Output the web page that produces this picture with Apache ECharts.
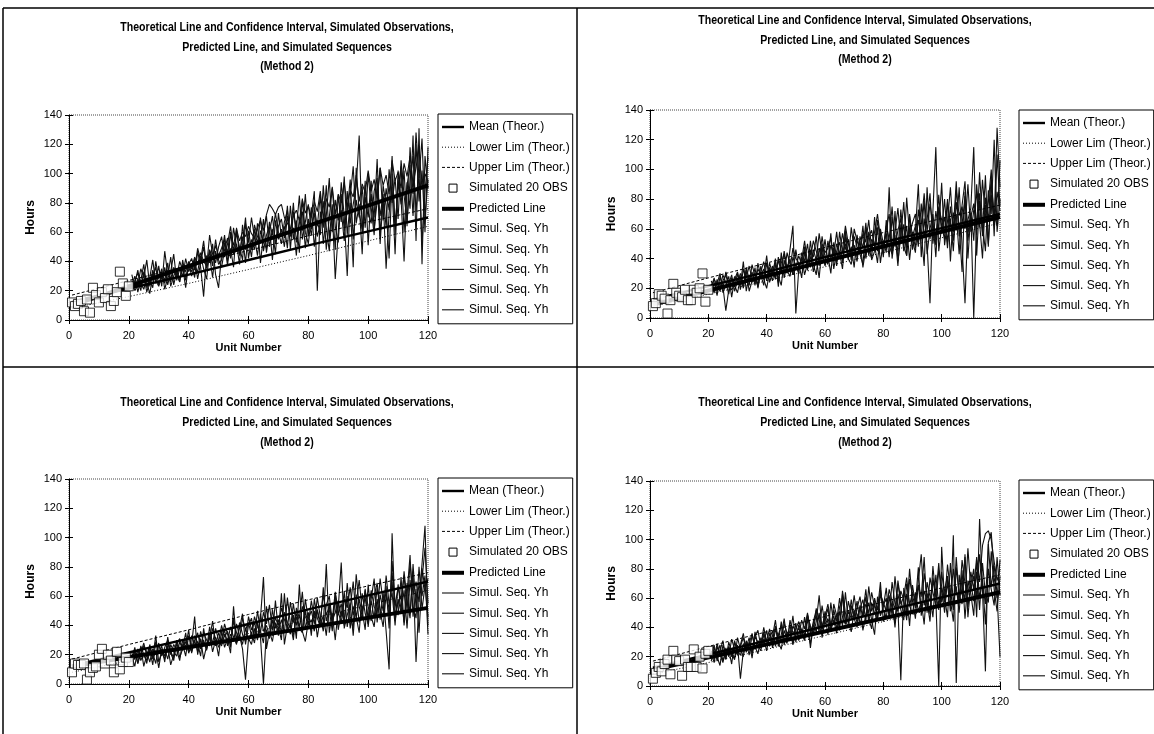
<!DOCTYPE html>
<html>
<head>
<meta charset="utf-8">
<style>
  html, body { margin: 0; padding: 0; background: #fff; }
  #chart { width: 1154px; height: 734px; }
</style>
<script src="https://cdn.jsdelivr.net/npm/echarts@6.0.0/dist/echarts.min.js"></script>
</head>
<body>
<div id="chart"></div>
<script>
// ---- text ----
const titleLines = [
  'Theoretical Line and Confidence Interval, Simulated Observations,',
  'Predicted Line, and Simulated Sequences',
  '(Method 2)'
];
const xAxisName = 'Unit Number';
const yAxisName = 'Hours';
const seriesNames = ['Mean (Theor.)', 'Lower Lim (Theor.)', 'Upper Lim (Theor.)', 'Simulated 20 OBS', 'Predicted Line'];
const seqName = 'Simul. Seq. Yh';

// ---- axis ticks ----
const xTicks = [0, 20, 40, 60, 80, 100, 120];
const yTicks = [0, 20, 40, 60, 80, 100, 120, 140];

// ---- theoretical lines (same in every panel) ----
const theorUnits = [1, 20, 40, 60, 80, 100, 120];
const meanTheor  = [12.5, 21.5, 31, 41, 51, 60.5, 70];
const lowerTheor = [8, 16, 25, 34.5, 44, 54, 64];
const upperTheor = [17, 27, 37, 47.5, 57.5, 67, 76];

// ---- predicted lines ----
const predUnits = [1, 120];
const pred1 = [10, 92];
const pred2 = [9, 68];
const pred3 = [12, 52];
const pred4 = [11, 64];

// ---- simulated observations, units 1..20 ----
const obsUnits = [1, 2, 3, 4, 5, 6, 7, 8, 9, 10, 11, 12, 13, 14, 15, 16, 17, 18, 19, 20];
const obs1 = [12, 9.5, 11, 13, 6, 14, 5, 22, 17, 12, 19, 15, 21, 9.5, 13, 19, 33, 25, 16.5, 23];
const obs2 = [8, 10, 16, 15, 13, 3, 12, 23, 17, 15, 14, 19, 12, 12, 19, 17, 20, 30, 11, 19];
const obs3 = [8, 14, 13, 13, 14, 3, 8, 11, 12, 20, 24, 14, 20, 16, 8, 22, 10, 15, 18, 15];
const obs4 = [5, 9, 13, 10, 15, 18, 8, 24, 18, 17, 7, 18, 13, 13, 25, 13, 20, 12, 22, 24];

// ---- simulated sequences, units 21..120 ----
const seqFirstUnit = 21;

const p1s1 = [24,30,19,27,38,22,29,41,25,31, 28,36,24,33,45,27,35,30,42,33, 38,29,47,36,16,44,39,52,31,22,
  45,58,40,49,36,63,44,51,70,42, 55,48,66,39,58,71,50,62,45,73, 57,64,49,78,55,68,46,83,60,52,
  71,88,20,74,63,92,55,79,48,85, 67,98,58,80,36,104,73,62,95,51, 86,70,110,57,92,78,42,100,66,88,
  105,60,94,76,126,54,131,38,112,90];
const p1s2 = [31,22,28,20,33,26,18,30,36,24, 32,27,39,23,30,35,26,41,29,37, 33,42,28,39,50,35,44,29,47,38,
  41,53,37,60,45,52,38,65,48,55, 43,62,52,70,47,58,64,41,68,55, 62,50,71,58,80,53,66,74,49,69,
  58,77,64,85,52,71,97,60,82,68, 75,54,88,66,79,91,126,59,84,70, 95,62,81,104,68,90,75,112,58,96,
  79,102,64,118,86,128,97,124,70,96];
const p1s3 = [22,27,32,25,21,29,24,34,27,23, 30,25,34,28,36,31,26,38,33,40, 35,43,38,46,40,37,48,42,51,44,
  49,55,46,58,51,62,54,60,57,64, 59,56,63,68,61,72,79,76,72,77, 79,70,66,62,71,75,68,82,73,78,
  70,81,74,88,69,83,77,91,72,86, 80,94,77,89,84,99,81,93,87,102, 88,96,83,104,92,99,86,109,95,101,
  90,107,98,112,93,104,118,89,100,94];
const p1s4 = [27,20,24,35,29,41,23,32,26,37, 23,47,31,26,35,29,40,34,27,38, 42,34,49,41,54,36,58,45,39,50,
  57,43,52,64,47,59,50,41,66,53, 70,56,44,61,53,49,67,58,73,60, 52,67,75,57,63,44,70,61,86,57,
  77,50,68,58,92,63,47,75,28,60, 94,71,30,84,105,66,79,45,92,74, 66,88,97,52,84,35,73,91,45,102,
  83,40,92,106,71,120,81,102,60,118];
const p1s5 = [20,25,34,23,31,19,27,22,40,28, 35,21,29,43,24,33,28,36,22,39, 30,37,33,44,35,28,47,37,55,41,
  36,48,56,42,63,50,46,57,39,61, 48,65,57,53,69,46,60,71,52,64, 69,56,78,48,74,62,85,55,67,79,
  62,73,57,66,81,48,70,90,64,53, 86,61,74,96,55,82,70,91,63,100, 77,58,94,71,86,63,103,80,97,69,
  109,85,67,95,112,74,100,52,88,111];

const p2s1 = [18,24,15,28,21,5,19,26,22,17, 27,21,32,18,25,30,22,35,26,20, 31,25,36,28,22,39,30,46,62,3,
  33,41,29,37,45,31,40,27,48,35, 42,30,51,38,44,33,55,40,36,49, 41,52,34,47,58,39,45,61,37,52,
  44,88,40,56,35,63,48,42,70,46, 59,90,41,67,50,10,72,115,45,62, 53,80,38,71,59,88,48,10,66,74,
  115,42,79,58,96,50,83,64,128,88];
const p2s2 = [23,17,26,20,29,24,16,27,21,30, 19,33,25,22,36,28,21,31,38,25, 34,29,40,24,37,43,32,28,41,35,
  30,44,38,50,34,46,39,57,43,36, 52,40,47,35,58,44,50,39,61,46, 38,55,47,64,42,53,49,37,60,50,
  57,41,68,52,45,73,50,62,39,58, 47,66,55,79,43,60,70,52,83,58, 68,47,75,60,92,55,63,82,40,71,
  0,67,84,55,76,48,90,70,62,106];
const p2s3 = [20,26,22,18,25,29,21,19,28,24, 30,23,27,35,26,24,33,29,22,37, 28,35,26,41,33,30,44,36,29,34,
  42,36,48,33,40,52,45,38,55,41, 36,49,43,58,40,46,62,50,42,55, 48,44,57,51,66,46,58,70,54,47,
  62,53,75,48,59,67,45,81,56,64, 70,51,63,84,58,77,62,49,74,66, 57,78,64,52,86,69,75,60,90,58,
  72,84,61,93,67,78,100,62,85,72];
const p2s4 = [25,19,23,30,17,22,28,14,26,31, 22,38,18,29,24,34,20,31,27,42, 24,31,38,21,44,27,36,33,47,40,
  37,27,45,32,52,36,29,47,39,53, 38,57,33,45,51,37,59,42,48,34, 56,43,36,61,47,40,68,45,57,41,
  66,49,43,72,38,55,78,47,61,52, 44,73,57,35,88,53,66,41,75,60, 80,51,67,45,78,62,31,85,57,71,
  52,90,64,40,81,66,95,55,110,75];
const p2s5 = [21,27,18,24,20,31,23,29,18,25, 28,20,34,26,31,22,37,28,33,26, 37,30,27,39,31,45,33,40,29,46,
  34,39,52,37,46,41,55,35,50,44, 47,54,38,50,43,57,46,53,39,60, 52,45,62,40,55,59,48,66,51,43,
  60,70,45,58,74,51,63,42,69,55, 62,48,77,55,66,84,50,72,59,91, 49,65,88,58,70,43,76,92,52,68,
  77,56,98,63,45,86,70,120,58,80];

const p3s1 = [19,12,24,16,21,14,27,18,33,15, 22,17,26,13,20,29,18,24,35,21, 27,46,20,31,17,26,34,22,30,19,
  36,25,31,21,53,28,33,24,3,31, 27,38,30,45,73,24,36,29,42,33, 62,27,40,34,47,31,68,36,29,43,
  37,50,32,45,40,82,35,48,30,52, 83,38,47,55,33,61,42,50,37,68, 46,39,58,44,63,36,10,103,47,55,
  60,42,69,48,77,15,58,82,108,40];
const p3s2 = [15,22,18,25,12,20,26,17,23,11, 24,19,28,21,16,30,23,27,19,33, 25,30,22,36,28,24,39,27,32,25,
  30,37,26,34,29,41,33,27,38,30, 35,28,42,32,0,37,31,44,34,39, 30,62,36,41,33,46,38,35,50,40,
  44,36,51,39,47,33,55,42,58,37, 49,44,60,38,53,46,35,62,48,41, 57,45,66,50,39,61,47,70,43,58,
  49,64,38,71,53,45,80,51,67,46];
const p3s3 = [21,17,23,19,26,22,15,24,20,28, 19,25,30,22,18,27,31,24,29,22, 33,26,29,24,35,30,26,38,31,28,
  40,32,36,28,43,35,31,45,37,42, 33,46,39,35,49,41,54,37,45,40, 52,44,38,56,42,48,39,53,46,41,
  57,45,50,43,61,47,53,44,63,49, 42,58,52,66,47,55,71,50,59,45, 64,53,48,72,56,62,51,76,54,66,
  58,74,50,83,61,70,56,79,65,72];
const p3s4 = [17,25,14,21,28,19,23,13,29,21, 26,15,32,20,27,23,16,30,25,37, 21,33,28,19,38,25,31,43,26,35,
  29,41,34,25,45,30,38,48,27,40, 45,31,50,36,28,53,39,33,57,36, 44,35,59,41,30,52,45,63,37,49,
  33,58,45,39,66,43,51,36,62,47, 55,40,69,46,38,75,53,44,65,39, 58,72,42,61,50,67,38,84,55,47,
  73,40,62,88,46,65,35,71,93,55];
const p3s5 = [18,22,14,26,20,16,24,21,14,27, 20,24,17,27,22,19,29,23,31,26, 22,29,35,25,30,23,33,28,38,30,
  26,34,29,39,32,27,42,34,29,46, 37,42,31,48,36,40,33,51,38,44, 35,49,42,38,55,40,47,36,58,44,
  50,41,59,46,36,54,60,43,49,57, 46,63,39,52,70,45,58,48,64,53, 43,60,69,51,46,74,55,62,40,68,
  50,77,57,45,82,52,68,60,74,34];

const p4s1 = [22,16,27,20,25,18,30,23,19,28, 5,24,30,21,35,27,22,33,29,38, 27,34,45,30,25,38,32,42,29,35,
  40,33,47,37,29,44,52,36,41,48, 35,57,42,49,38,63,45,40,55,47, 58,42,50,66,46,39,60,52,71,44,
  55,62,48,75,53,4,67,50,80,58, 46,72,90,55,63,49,82,60,0,95, 58,70,51,103,2,76,62,88,54,69,
  80,47,114,65,10,98,105,74,60,86];
const p4s2 = [19,24,21,28,17,23,26,20,31,22, 27,33,24,29,36,25,31,28,40,30, 33,28,38,35,30,43,36,32,41,37,
  34,45,39,50,36,43,48,38,55,42, 46,40,52,44,60,47,42,58,49,45, 53,61,47,56,50,64,54,48,62,57,
  51,66,58,53,70,56,61,74,55,64, 59,68,52,77,63,58,72,61,84,57, 66,75,60,80,64,58,86,70,62,78,
  66,88,71,96,104,106,100,85,72,80];
const p4s3 = [24,18,29,22,16,26,20,32,25,21, 28,36,23,30,19,34,38,27,32,24, 36,30,41,27,35,46,31,38,28,43,
  31,39,35,46,26,42,37,50,33,45, 53,38,45,36,51,41,64,44,37,52, 43,55,38,49,57,45,35,61,48,54,
  67,46,58,40,63,52,45,70,55,49, 64,51,58,42,71,61,47,76,55,67, 50,73,59,44,81,62,56,90,47,70,
  58,78,52,84,63,57,92,66,51,75];
const p4s4 = [17,26,20,14,28,22,25,15,30,24, 21,29,26,33,22,37,28,24,35,31, 39,26,33,30,44,28,37,34,48,30,
  42,36,31,49,40,35,44,62,38,51, 43,37,56,48,41,65,50,43,59,46, 40,54,48,61,43,57,50,45,66,52,
  47,60,54,43,72,58,49,63,41,69, 56,81,48,65,58,44,74,63,52,78, 61,47,84,57,68,50,79,46,72,63,
  48,86,60,73,42,80,66,55,88,62];
const p4s5 = [21,28,17,24,31,19,27,22,18,33, 25,20,31,26,23,34,29,26,37,28, 32,38,27,35,41,33,29,45,36,39,
  44,38,32,48,41,36,53,45,39,47, 56,42,48,39,54,60,43,51,46,62, 47,53,59,44,68,51,57,46,63,55,
  60,48,71,56,51,65,59,45,73,62, 53,69,61,88,50,74,64,55,79,68, 57,83,65,52,88,61,72,58,94,66,
  75,61,90,70,56,97,68,82,63,20];

// ---- panel assembly ----
const panelData = [
  { pred: pred1, obs: obs1, seqs: [p1s1, p1s2, p1s3, p1s4, p1s5] },
  { pred: pred2, obs: obs2, seqs: [p2s1, p2s2, p2s3, p2s4, p2s5] },
  { pred: pred3, obs: obs3, seqs: [p3s1, p3s2, p3s3, p3s4, p3s5] },
  { pred: pred4, obs: obs4, seqs: [p4s1, p4s2, p4s3, p4s4, p4s5] }
];

// page layout of the four panels
const panelLayout = [
  { grid: { left: 69,  top: 115, width: 359, height: 205 }, titleX: 287, titleY: [28, 48, 67],    legend: { left: 438,  top: 114 } },
  { grid: { left: 650, top: 110, width: 350, height: 208 }, titleX: 865, titleY: [21, 41, 60],    legend: { left: 1019, top: 110 } },
  { grid: { left: 69,  top: 479, width: 359, height: 205 }, titleX: 287, titleY: [403, 423, 443], legend: { left: 438,  top: 478 } },
  { grid: { left: 650, top: 481, width: 350, height: 205 }, titleX: 865, titleY: [403, 423, 443], legend: { left: 1019, top: 480 } }
];

// line styles shared by the plot and its legend
const styleMean  = { color: '#000', width: 2.4 };
const styleLower = { color: '#000', width: 1, type: [1, 2] };
const styleUpper = { color: '#000', width: 1, type: [3, 2] };
const stylePred  = { color: '#000', width: 4 };
const styleSeq   = { color: '#111', width: 1.1 };

const FONT = '"Liberation Sans", Arial, sans-serif';
const pairs = (xs, ys) => ys.map((y, i) => [xs[i], y]);
const seqPairs = ys => ys.map((y, i) => [seqFirstUnit + i, y]);
const seqLabel = k => seqName + ' ' + (k + 1);

const grids = [], xAxes = [], yAxes = [], series = [], legends = [], graphics = [];

panelLayout.forEach((lay, p) => {
  const d = panelData[p];
  grids.push(Object.assign({
    show: true, borderColor: '#444', borderWidth: 1, borderType: 'dotted', backgroundColor: 'transparent'
  }, lay.grid));

  const xi = xAxes.length, yi = yAxes.length;
  // main axes
  xAxes.push({
    type: 'value', gridIndex: p, min: xTicks[0], max: xTicks[xTicks.length - 1], interval: 20,
    name: xAxisName, nameLocation: 'middle', nameGap: 22,
    nameTextStyle: { fontFamily: FONT, fontSize: 11, fontWeight: 'bold', color: '#000' },
    axisLine: { show: true, onZero: false, lineStyle: { color: '#000', width: 1 } },
    axisTick: { show: true, length: 4, lineStyle: { color: '#000' } },
    axisLabel: { fontFamily: FONT, fontSize: 11, color: '#000', margin: 10 },
    splitLine: { show: false }
  });
  // inner half of the crossing ticks
  xAxes.push({
    type: 'value', gridIndex: p, min: xTicks[0], max: xTicks[xTicks.length - 1], interval: 20, position: 'bottom',
    axisLine: { show: false }, axisLabel: { show: false }, splitLine: { show: false },
    axisTick: { show: true, inside: true, length: 4, lineStyle: { color: '#000' } }
  });
  yAxes.push({
    type: 'value', gridIndex: p, min: yTicks[0], max: yTicks[yTicks.length - 1], interval: 20,
    name: yAxisName, nameLocation: 'middle', nameGap: 32,
    nameTextStyle: { fontFamily: FONT, fontSize: 12, fontWeight: 'bold', color: '#000' },
    axisLine: { show: true, onZero: false, lineStyle: { color: '#000', width: 1 } },
    axisTick: { show: true, length: 4, lineStyle: { color: '#000' } },
    axisLabel: { fontFamily: FONT, fontSize: 11, color: '#000', margin: 7 },
    splitLine: { show: false }
  });
  yAxes.push({
    type: 'value', gridIndex: p, min: yTicks[0], max: yTicks[yTicks.length - 1], interval: 20, position: 'left',
    axisLine: { show: false }, axisLabel: { show: false }, splitLine: { show: false },
    axisTick: { show: true, inside: true, length: 4, lineStyle: { color: '#000' } }
  });

  const base = {
    type: 'line', xAxisIndex: xi, yAxisIndex: yi, symbol: 'none', silent: true, animation: false,
    itemStyle: { color: '#000' }
  };

  // simulated sequences
  d.seqs.forEach((s, k) => {
    series.push(Object.assign({}, base, { name: seqLabel(k), data: seqPairs(s), z: 2, lineStyle: styleSeq }));
  });
  // theoretical lines
  series.push(Object.assign({}, base, { name: seriesNames[1], data: pairs(theorUnits, lowerTheor), z: 3, lineStyle: styleLower }));
  series.push(Object.assign({}, base, { name: seriesNames[2], data: pairs(theorUnits, upperTheor), z: 3, lineStyle: styleUpper }));
  series.push(Object.assign({}, base, { name: seriesNames[0], data: pairs(theorUnits, meanTheor), z: 4, lineStyle: styleMean }));
  // predicted line
  series.push(Object.assign({}, base, { name: seriesNames[4], data: pairs(predUnits, d.pred), z: 5, lineStyle: stylePred }));
  // simulated observations
  series.push({
    type: 'scatter', name: seriesNames[3], xAxisIndex: xi, yAxisIndex: yi, silent: true, animation: false, z: 6,
    symbol: 'rect', symbolSize: 9,
    itemStyle: { color: '#fff', borderColor: '#000', borderWidth: 1 },
    data: pairs(obsUnits, d.obs)
  });

  const seqItem = k => ({ name: seqLabel(k), lineStyle: styleSeq });
  legends.push({
    orient: 'vertical', left: lay.legend.left, top: lay.legend.top,
    padding: [7, 3, 8, 2], itemGap: 8.2, itemWidth: 22, itemHeight: 12,
    borderColor: '#000', borderWidth: 1, backgroundColor: '#fff',
    selectedMode: false,
    itemStyle: { opacity: 0 },
    textStyle: { fontFamily: FONT, fontSize: 12, color: '#000' },
    formatter: n => n.replace(/ \d$/, ''),
    data: [
      { name: seriesNames[0], lineStyle: styleMean },
      { name: seriesNames[1], lineStyle: styleLower },
      { name: seriesNames[2], lineStyle: styleUpper },
      { name: seriesNames[3], icon: 'path://M0,0M22,12M7,2h8v8h-8z',
        itemStyle: { opacity: 1, color: '#fff', borderColor: '#000', borderWidth: 1 } },
      { name: seriesNames[4], lineStyle: stylePred },
      seqItem(0), seqItem(1), seqItem(2), seqItem(3), seqItem(4)
    ]
  });

  // panel titles (condensed bold)
  titleLines.forEach((t, i) => {
    graphics.push({
      type: 'text', x: lay.titleX, y: lay.titleY[i], scaleX: 0.88, silent: true,
      style: { text: t, font: 'bold 12px ' + FONT, fill: '#000', textAlign: 'center', textVerticalAlign: 'middle' }
    });
  });
});

// panel frames
const frameLines = [
  [3, 8, 1154, 8], [3, 8, 3, 734], [577, 8, 577, 734], [3, 367, 1154, 367]
];
frameLines.forEach(l => graphics.push({
  type: 'line', silent: true, shape: { x1: l[0], y1: l[1], x2: l[2], y2: l[3] },
  style: { stroke: '#000', lineWidth: 1.5 }
}));

const chart = echarts.init(document.getElementById('chart'), null, { renderer: 'canvas' });
chart.setOption({
  animation: false,
  backgroundColor: '#fff',
  grid: grids,
  xAxis: xAxes,
  yAxis: yAxes,
  legend: legends,
  series: series,
  graphic: { elements: graphics }
});
</script>
</body>
</html>
